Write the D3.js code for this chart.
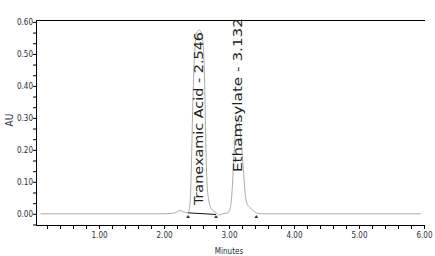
<!DOCTYPE html>
<html><head><meta charset="utf-8">
<script src="https://cdn.jsdelivr.net/npm/d3@7"></script>
<style>
html,body{margin:0;padding:0;background:#fff;}
svg{display:block;}
text{font-family:"Liberation Sans Narrow","DejaVu Sans Condensed","Liberation Sans",sans-serif;}
</style></head>
<body><svg id="c" width="435" height="256"></svg>
<script>
// ---- data ----
const times = [0.10,0.40,0.80,1.20,1.60,2.00,2.10,2.18,2.24,2.28,2.33,2.37,2.40,2.42,2.44,2.47,2.50,2.546,2.59,2.62,2.64,2.66,2.69,2.73,2.80,2.85,2.90,2.98,3.02,3.05,3.08,3.11,3.132,3.16,3.19,3.22,3.25,3.28,3.32,3.36,3.42,3.50,4.00,4.50,5.00,5.50,5.95];
const absorb = [0.000,0.000,0.000,0.000,0.000,0.000,0.001,0.004,0.010,0.008,0.004,0.004,0.030,0.140,0.320,0.500,0.565,0.575,0.550,0.450,0.250,0.100,0.040,0.015,0.004,-0.004,0.000,0.003,0.020,0.080,0.200,0.280,0.300,0.280,0.220,0.140,0.060,0.030,0.020,0.012,0.003,0.000,0.000,0.000,0.000,0.000,0.000];
const peakNames = ["Tranexamic Acid - 2.546","Ethamsylate - 3.132"];
const peakTimes = [2.546,3.132];
const eventTimes = [2.37,2.80,3.42];
const xTickLabels = ["1.00","2.00","3.00","4.00","5.00","6.00"];
const yTickLabels = ["0.00","0.10","0.20","0.30","0.40","0.50","0.60"];
const xTitle = "Minutes", yTitle = "AU";

// ---- layout ----
const svg = d3.select("#c");
const L = 36, R = 425, T = 20, B = 225;
const x = d3.scaleLinear().domain([0.03, 6.0]).range([L, 424]);
const y = d3.scaleLinear().domain([-0.035, 0.606]).range([B, T]);
const tickCol = "#2b2b48";

// frame
svg.append("line").attr("x1",L).attr("x2",R).attr("y1",T+0.5).attr("y2",T+0.5).attr("stroke","#000");

// x axis
const xMinor = d3.range(1, 31).map(i => i*0.2);
const xAxis = d3.axisBottom(x).tickValues(xMinor).tickSize(4)
  .tickFormat(d => { const i = xTickLabels.findIndex(s => Math.abs(+s - d) < 1e-6); return i >= 0 ? xTickLabels[i] : ""; });
const gx = svg.append("g").attr("transform",`translate(0,${B})`).call(xAxis);
gx.select(".domain").attr("d",`M${L},0.5H${R}`).attr("stroke","#000");
gx.selectAll(".tick line").attr("stroke","#000");
gx.selectAll(".tick text").attr("fill",tickCol).attr("font-size",8).attr("dy","0.9em").attr("y",6);

// y axis
const yMinor = d3.range(-1, 19).map(i => i*0.1/3);
const yAxis = d3.axisLeft(y).tickValues(yMinor).tickSize(3)
  .tickFormat(d => { const i = yTickLabels.findIndex(s => Math.abs(+s - d) < 1e-6); return i >= 0 ? yTickLabels[i] : ""; });
const gy = svg.append("g").attr("transform",`translate(${L},0)`).call(yAxis);
gy.select(".domain").attr("d",`M0.5,${T}V${B}`).attr("stroke","#000");
gy.selectAll(".tick line").attr("stroke","#000");
gy.selectAll(".tick text").attr("fill",tickCol).attr("font-size",8).attr("x",-3);

// titles
svg.append("text").attr("transform",`translate(13,120) rotate(-90)`).attr("text-anchor","middle")
  .attr("font-size",10).attr("fill",tickCol).text(yTitle);
svg.append("text").attr("x",229).attr("y",254).attr("text-anchor","middle")
  .attr("font-size",8).attr("fill",tickCol).text(xTitle);

// trace
const pts = times.map((t,i)=>[t, absorb[i]]);
svg.append("path").datum(pts)
  .attr("d", d3.line().x(d=>x(d[0])).y(d=>y(d[1])).curve(d3.curveMonotoneX))
  .attr("fill","none").attr("stroke","#ababab").attr("stroke-width",1);

// integration baseline
svg.append("line").attr("x1",x(eventTimes[0])).attr("x2",x(eventTimes[1]))
  .attr("y1",y(0.003)).attr("y2",y(-0.002)).attr("stroke","#111").attr("stroke-width",1);
svg.selectAll(".ev").data(eventTimes).enter().append("path")
  .attr("d", d => `M${x(d)-2},${y(-0.004)+3}L${x(d)+2},${y(-0.004)+3}L${x(d)},${y(-0.004)}Z`)
  .attr("fill","#333");

// peak labels
svg.selectAll(".pl").data(peakNames).enter().append("text")
  .attr("transform",(d,i)=>`translate(${x(peakTimes[i])+ (i===0?3:4)},${i===0?205:172}) rotate(-90)`)
  .attr("font-size",12.5).attr("fill","#222")
  .attr("textLength",(d,i)=> i===0?173:154).attr("lengthAdjust","spacingAndGlyphs")
  .text(d=>d);
</script></body></html>
